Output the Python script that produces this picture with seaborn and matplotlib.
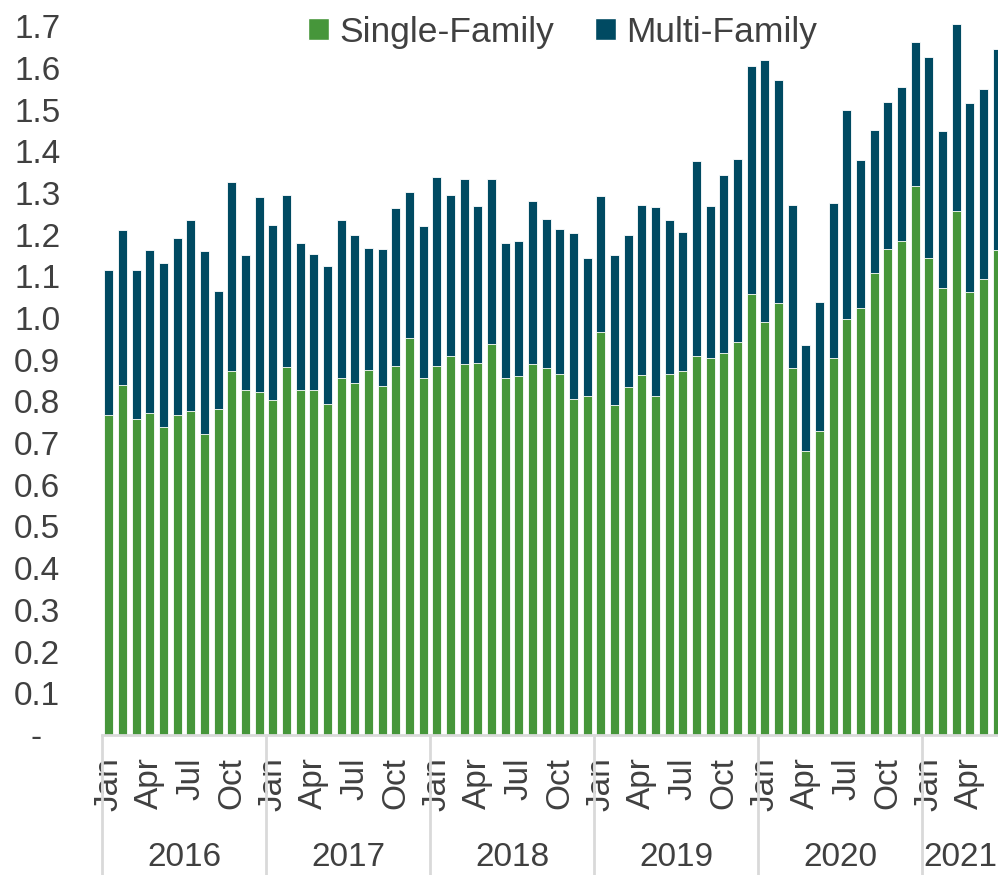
import matplotlib
matplotlib.use("Agg")
import matplotlib.pyplot as plt
import matplotlib.transforms as mtransforms
from matplotlib.patches import Patch
import seaborn as sns
import pandas as pd

# ---- data (millions of units, SAAR) ----
years = ["2016", "2017", "2018", "2019", "2020", "2021"]
months_per_year = [12, 12, 12, 12, 12, 6]
month_names = ["Jan", "Feb", "Mar", "Apr", "May", "Jun",
               "Jul", "Aug", "Sep", "Oct", "Nov", "Dec"]
shown_months = ["Jan", "Apr", "Jul", "Oct"]

single_family = [
    0.767, 0.840, 0.757, 0.772, 0.738, 0.767, 0.776, 0.722, 0.781, 0.873, 0.827, 0.823,
    0.803, 0.882, 0.827, 0.827, 0.794, 0.856, 0.844, 0.875, 0.837, 0.885, 0.952, 0.856,
    0.885, 0.908, 0.890, 0.893, 0.938, 0.856, 0.861, 0.889, 0.881, 0.866, 0.805, 0.814,
    0.967, 0.792, 0.834, 0.863, 0.814, 0.865, 0.873, 0.910, 0.903, 0.915, 0.942, 1.058,
    0.990, 1.036, 0.881, 0.681, 0.728, 0.904, 0.997, 1.024, 1.107, 1.165, 1.184, 1.317,
    1.145, 1.071, 1.257, 1.062, 1.093, 1.162,
]
multi_family = [
    0.348, 0.370, 0.359, 0.390, 0.394, 0.425, 0.459, 0.438, 0.283, 0.454, 0.325, 0.466,
    0.420, 0.412, 0.353, 0.327, 0.331, 0.379, 0.354, 0.294, 0.328, 0.378, 0.349, 0.364,
    0.452, 0.388, 0.443, 0.375, 0.395, 0.325, 0.324, 0.391, 0.356, 0.347, 0.398, 0.329,
    0.325, 0.358, 0.366, 0.408, 0.451, 0.371, 0.333, 0.467, 0.365, 0.427, 0.440, 0.546,
    0.629, 0.534, 0.390, 0.254, 0.311, 0.372, 0.502, 0.354, 0.343, 0.352, 0.370, 0.346,
    0.482, 0.378, 0.447, 0.454, 0.456, 0.484,
]
y_ticks = [0.0, 0.1, 0.2, 0.3, 0.4, 0.5, 0.6, 0.7, 0.8, 0.9, 1.0,
           1.1, 1.2, 1.3, 1.4, 1.5, 1.6, 1.7]

# ---- build table ----
rows = []
for y, n in zip(years, months_per_year):
    for m in range(n):
        rows.append((y, month_names[m]))
df = pd.DataFrame(rows, columns=["year", "month"])
df["period"] = df["year"] + "-" + df["month"]
df["single"] = single_family
df["multi"] = multi_family
df["total"] = df["single"] + df["multi"]
order = list(df["period"])

GREEN = "#46963a"
BLUE = "#004a62"
TEXT = "#404040"
SEP = "#d9d9d9"

sns.set_theme(style="white")
plt.rcParams["font.family"] = ["Liberation Sans", "DejaVu Sans"]

W, H = 998, 875
fig = plt.figure(figsize=(W / 100, H / 100), dpi=100)
left_px, bottom_px = 102, 735
n = len(df)
step_px = 164 / 12.0
ax_w_px = n * step_px
ax = fig.add_axes([left_px / W, (H - bottom_px) / H, ax_w_px / W, bottom_px / H])

sns.barplot(data=df, x="period", y="total", order=order, color=BLUE,
            saturation=1, width=0.68, edgecolor="white", linewidth=0.6, ax=ax)
sns.barplot(data=df, x="period", y="single", order=order, color=GREEN,
            saturation=1, width=0.68, edgecolor="white", linewidth=0.6, ax=ax)

ax.set_xlim(-0.5, n - 0.5)
ax.set_ylim(0, bottom_px / 417.0)
ax.set_xlabel("")
ax.set_ylabel("")

# y ticks
ax.set_yticks(y_ticks)
ax.set_yticklabels(["-  " if v == 0 else f"{v:.1f}" for v in y_ticks])
ax.tick_params(axis="y", length=0, pad=30, labelsize=24, labelcolor=TEXT)

# x ticks: Jan/Apr/Jul/Oct
pos = [i for i, m in enumerate(df["month"]) if m in shown_months]
labs = [df["month"][i] for i in pos]
ax.set_xticks(pos)
ax.set_xticklabels(labs, rotation=90, va="top", ha="center")
ax.tick_params(axis="x", length=0, pad=16, labelsize=24, labelcolor=TEXT)

for s in ["top", "right", "left"]:
    ax.spines[s].set_visible(False)
ax.spines["bottom"].set_color(SEP)
ax.spines["bottom"].set_linewidth(2)

# year separators and labels
trans = mtransforms.blended_transform_factory(ax.transData, ax.transAxes)
sep_depth = (H - bottom_px) / bottom_px
start = 0
for y, cnt in zip(years, months_per_year):
    ax.plot([start - 0.5, start - 0.5], [0, -sep_depth], transform=trans,
            color=SEP, lw=2, clip_on=False)
    xc = start + (cnt - 1) / 2.0
    if cnt < 12:
        xc -= 0.2
    ax.text(xc, -(857 - bottom_px) / bottom_px, y,
            transform=trans, ha="center", va="center", fontsize=24, color=TEXT)
    start += cnt

# legend
handles = [Patch(facecolor=GREEN, label="Single-Family"),
           Patch(facecolor=BLUE, label="Multi-Family")]
leg = ax.legend(handles=handles, loc="upper center", bbox_to_anchor=(0.5105, 1.022),
                ncol=2, frameon=False, fontsize=25.5, handlelength=0.6,
                handleheight=0.6, handletextpad=0.28, columnspacing=1.15)
for t in leg.get_texts():
    t.set_color(TEXT)

fig.savefig("out.png", dpi=100)
